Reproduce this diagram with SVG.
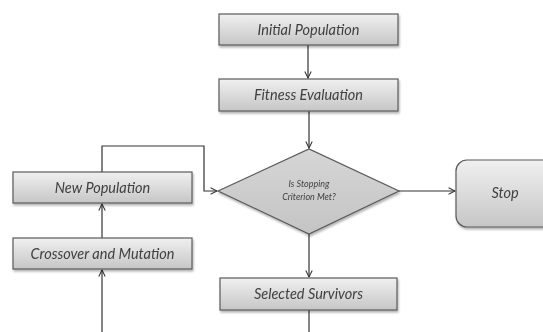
<svg xmlns="http://www.w3.org/2000/svg" width="543" height="332" viewBox="0 0 543 332">
<style>
.box{fill:url(#g);stroke:#5a5a5a;stroke-width:1.2}
.lbl{font-family:Lato,"Liberation Sans",sans-serif;font-style:italic;font-size:14.5px;fill:#404040;text-anchor:middle}
.sm{font-size:9px}
.c{fill:none;stroke:#333;stroke-width:1.2}
</style>
<defs>
<linearGradient id="g" x1="0" y1="0" x2="0" y2="1">
<stop offset="0" stop-color="#f0f0f0"/>
<stop offset="1" stop-color="#c6c6c6"/>
</linearGradient>
<linearGradient id="gd" x1="0" y1="0" x2="0" y2="1">
<stop offset="0" stop-color="#d6d6d6"/>
<stop offset="1" stop-color="#c4c4c4"/>
</linearGradient>
<filter id="sh" x="-10%" y="-10%" width="130%" height="140%">
<feDropShadow dx="1" dy="2" stdDeviation="1.2" flood-color="#000" flood-opacity="0.3"/>
</filter>
<marker id="a" viewBox="0 0 10 10" refX="9" refY="5" markerWidth="8" markerHeight="8" orient="auto" markerUnits="userSpaceOnUse">
<path d="M1,1 L9,5 L1,9" fill="none" stroke="#333" stroke-width="1.3"/>
</marker>
</defs>
<g id="connectors">
<line class="c" x1="308" y1="45" x2="308" y2="78" marker-end="url(#a)"/>
<line class="c" x1="309" y1="111" x2="309" y2="148" marker-end="url(#a)"/>
<line class="c" x1="399" y1="191" x2="455" y2="191" marker-end="url(#a)"/>
<line class="c" x1="309" y1="234" x2="309" y2="277" marker-end="url(#a)"/>
<line class="c" x1="309" y1="310" x2="309" y2="332"/>
<line class="c" x1="102" y1="332" x2="102" y2="270" marker-end="url(#a)"/>
<line class="c" x1="102" y1="238" x2="102" y2="204" marker-end="url(#a)"/>
<polyline class="c" points="102,172 102,146 204,146 204,191 217,191" marker-end="url(#a)"/>
</g>
<g id="initial" filter="url(#sh)">
<rect class="box" x="219" y="14" width="179" height="31"/>
<text class="lbl" x="308.5" y="34.5">Initial Population</text>
</g>
<g id="fitness" filter="url(#sh)">
<rect class="box" x="219" y="79" width="179" height="32"/>
<text class="lbl" x="308.5" y="100">Fitness Evaluation</text>
</g>
<g id="decision" filter="url(#sh)">
<polygon points="218,191 309,149 399,191 309,234" fill="url(#gd)" stroke="#5a5a5a" stroke-width="1.2"/>
<text class="lbl sm" x="309" y="187">Is Stopping</text>
<text class="lbl sm" x="309" y="200">Criterion Met?</text>
</g>
<g id="stop" filter="url(#sh)">
<rect class="box" x="456" y="160" width="100" height="67" rx="11"/>
<text class="lbl" x="505" y="198">Stop</text>
</g>
<g id="selected" filter="url(#sh)">
<rect class="box" x="220" y="278" width="177" height="32"/>
<text class="lbl" x="308.5" y="299">Selected Survivors</text>
</g>
<g id="newpop" filter="url(#sh)">
<rect class="box" x="13" y="172" width="179" height="31"/>
<text class="lbl" x="102.5" y="192.5">New Population</text>
</g>
<g id="crossover" filter="url(#sh)">
<rect class="box" x="13" y="238" width="179" height="31"/>
<text class="lbl" x="102.5" y="258.5">Crossover and Mutation</text>
</g>
</svg>
